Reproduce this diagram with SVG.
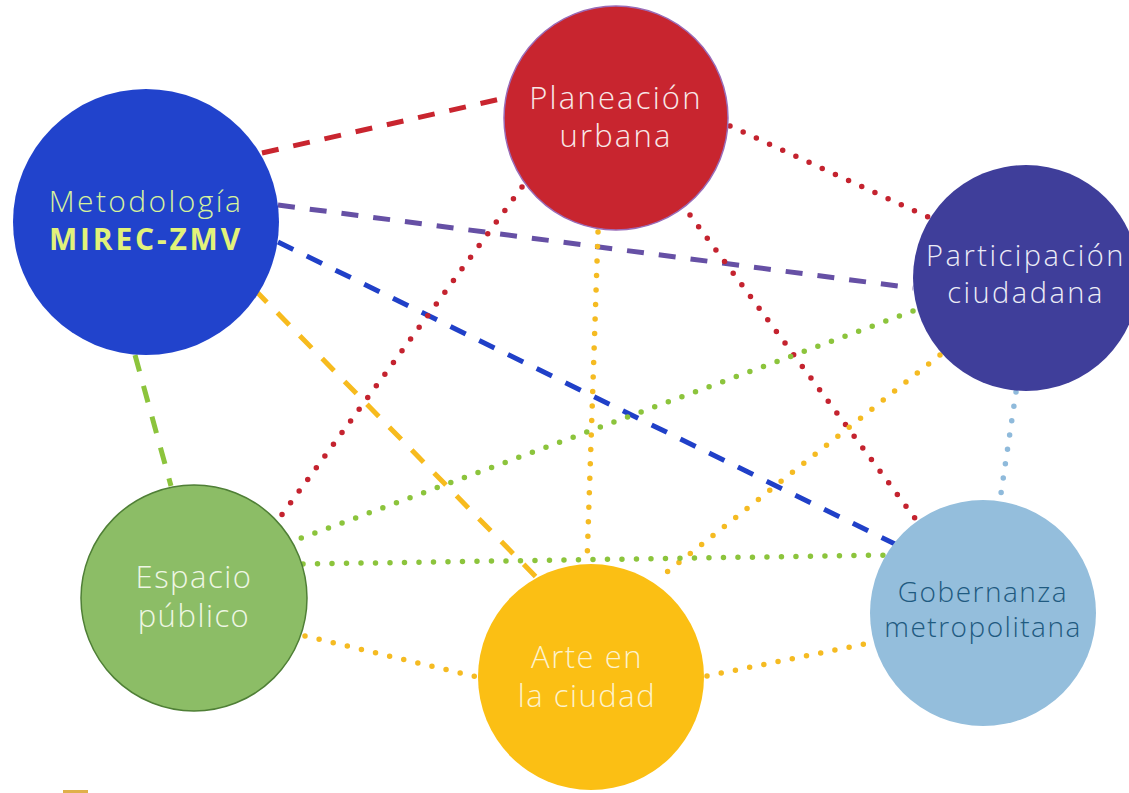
<svg xmlns="http://www.w3.org/2000/svg" width="1129" height="793" viewBox="0 0 1129 793">
<style>
.lbl{font-family:"Open Sans","Noto Sans","Liberation Sans",sans-serif;font-weight:300;text-anchor:middle;letter-spacing:1.5px}
.dash{fill:none;stroke-width:5;stroke-dasharray:17 15}
.dot{fill:none;stroke-width:5.5;stroke-linecap:round;stroke-dasharray:0 14.5}
</style>
<rect width="1129" height="793" fill="#ffffff"/>
<g id="connectors">
<line class="dash" x1="262" y1="153" x2="505" y2="98" stroke="#c9252f"/>
<line class="dash" x1="278" y1="205" x2="913" y2="288" stroke="#6650a5" stroke-width="4.5"/>
<line class="dash" x1="278" y1="242" x2="895" y2="544" stroke="#2040c8" stroke-width="5.5"/>
<line class="dash" x1="255" y1="290" x2="537" y2="578" stroke="#f7bb1e" stroke-width="5.5"/>
<line class="dash" x1="135" y1="355" x2="171" y2="486" stroke="#8cc43c" stroke-width="5.5"/>
<line class="dot" x1="730" y1="126" x2="928" y2="217" stroke="#c4232f"/>
<line class="dot" x1="522" y1="187" x2="278" y2="520" stroke="#c4232f"/>
<line class="dot" x1="598" y1="232" x2="587" y2="563" stroke="#f5bb22"/>
<line class="dot" x1="690" y1="215" x2="917" y2="521" stroke="#c4232f"/>
<line class="dot" x1="913" y1="311" x2="288" y2="543" stroke="#8cc43c"/>
<line class="dot" x1="940" y1="355" x2="657" y2="580" stroke="#f5bb22"/>
<line class="dot" x1="1016" y1="392" x2="1000" y2="500" stroke="#8fbadb"/>
<line class="dot" x1="303" y1="564" x2="893" y2="555" stroke="#8cc43c"/>
<line class="dot" x1="305" y1="636" x2="477" y2="677" stroke="#f5bb22"/>
<line class="dot" x1="707" y1="676" x2="870" y2="643" stroke="#f5bb22"/>
</g>
<g id="node-metodologia">
<circle cx="146" cy="222" r="133" fill="#2143cc"/>
<text class="lbl" x="146" y="212" font-size="30" fill="#d6f29c" style="letter-spacing:2.4px">Metodología</text>
<text class="lbl" x="146" y="250" font-size="30" fill="#e2f27a" style="font-weight:700;letter-spacing:2.8px">MIREC-ZMV</text>
</g>
<g id="node-planeacion">
<circle cx="616" cy="118" r="112" fill="#c8252f" stroke="#9a6cb8" stroke-width="1.5"/>
<text class="lbl" x="616" y="109" font-size="31" fill="#f8e8e8" style="letter-spacing:2.2px">Planeación</text>
<text class="lbl" x="616" y="147" font-size="31" fill="#f8e8e8" style="letter-spacing:2.2px">urbana</text>
</g>
<g id="node-participacion">
<circle cx="1026" cy="278" r="113" fill="#3f3e9a"/>
<text class="lbl" x="1026" y="266" font-size="29" fill="#ececf6" style="letter-spacing:2.5px">Participación</text>
<text class="lbl" x="1026" y="303" font-size="29" fill="#ececf6" style="letter-spacing:2.5px">ciudadana</text>
</g>
<g id="node-espacio">
<circle cx="194" cy="598" r="113" fill="#8cbd66" stroke="#4f7f36" stroke-width="1.5"/>
<text class="lbl" x="194" y="588" font-size="31" fill="#eef6e4">Espacio</text>
<text class="lbl" x="194" y="627" font-size="31" fill="#eef6e4">público</text>
</g>
<g id="node-arte">
<circle cx="591" cy="677" r="113" fill="#fbbf14"/>
<text class="lbl" x="587" y="668" font-size="31" fill="#fdf2cc">Arte en</text>
<text class="lbl" x="587" y="707" font-size="31" fill="#fdf2cc">la ciudad</text>
</g>
<g id="node-gobernanza">
<circle cx="983" cy="613" r="113" fill="#94bedc"/>
<text class="lbl" x="983" y="602" font-size="28" fill="#1f5a80">Gobernanza</text>
<text class="lbl" x="983" y="637" font-size="28" fill="#1f5a80">metropolitana</text>
</g>
<rect x="63" y="790" width="25" height="3" fill="#e0b04a"/>
</svg>
